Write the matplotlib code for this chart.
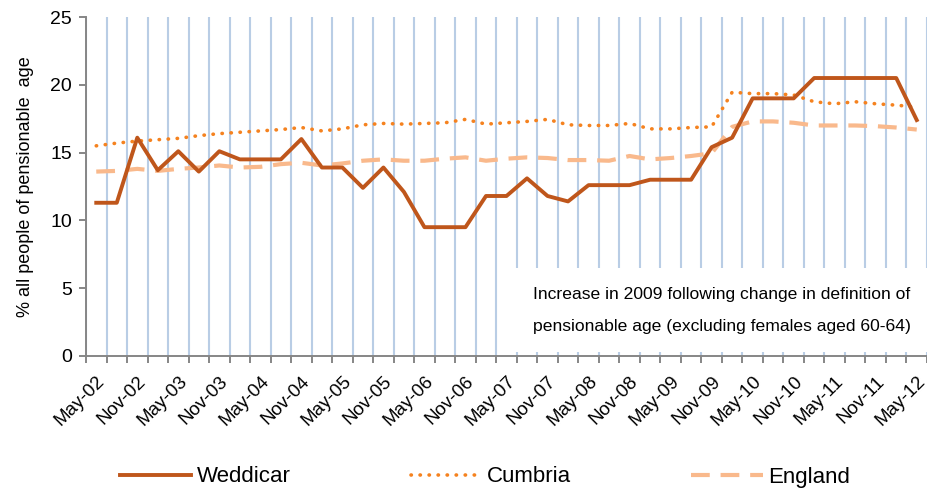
import numpy as np
import matplotlib.pyplot as plt
from matplotlib.patches import Rectangle

plt.rcParams['font.family'] = ['Liberation Sans', 'DejaVu Sans']

# quarterly values, May-02 .. May-12 (41 points)
weddicar = [11.3, 11.3, 16.1, 13.7, 15.1, 13.6, 15.1, 14.5, 14.5, 14.5,
            16.0, 13.9, 13.9, 12.4, 13.9, 12.1, 9.5, 9.5, 9.5, 11.8,
            11.8, 13.1, 11.8, 11.4, 12.6, 12.6, 12.6, 13.0, 13.0, 13.0,
            15.4, 16.1, 19.0, 19.0, 19.0, 20.5, 20.5, 20.5, 20.5, 20.5,
            17.4]
cumbria = [15.5, 15.7, 15.85, 15.95, 16.05, 16.25, 16.4, 16.5, 16.6, 16.7,
           16.85, 16.6, 16.75, 17.05, 17.15, 17.1, 17.15, 17.2, 17.45, 17.1,
           17.2, 17.3, 17.45, 17.05, 17.0, 17.0, 17.15, 16.75, 16.75, 16.85,
           16.9, 19.45, 19.35, 19.35, 19.25, 18.75, 18.6, 18.75, 18.6, 18.5,
           18.35]
england = [13.6, 13.65, 13.8, 13.65, 13.8, 13.9, 14.05, 13.9, 13.95, 14.15,
           14.25, 14.05, 14.2, 14.4, 14.5, 14.4, 14.4, 14.55, 14.65, 14.4,
           14.55, 14.65, 14.6, 14.45, 14.45, 14.4, 14.75, 14.5, 14.6, 14.75,
           14.95, 16.9, 17.3, 17.3, 17.2, 17.0, 17.0, 17.0, 16.95, 16.85,
           16.7]
tick_labels = ['May-02', 'Nov-02', 'May-03', 'Nov-03', 'May-04', 'Nov-04',
               'May-05', 'Nov-05', 'May-06', 'Nov-06', 'May-07', 'Nov-07',
               'May-08', 'Nov-08', 'May-09', 'Nov-09', 'May-10', 'Nov-10',
               'May-11', 'Nov-11', 'May-12']

x = np.arange(len(weddicar))

fig = plt.figure(figsize=(9.28, 4.88), dpi=100)
ax = fig.add_axes([86/928, 1 - 356/488, 841/928, 339/488])

ax.plot(x, england, color='#F9B98C', lw=3.0, dashes=(4.5, 2.6), label='England', zorder=3)
ax.plot(x, cumbria, color='#F5821F', lw=2.6, linestyle=(0, (0.1, 2.4)),
        dash_capstyle='round', label='Cumbria', zorder=4)
ax.plot(x, weddicar, color='#BF561B', lw=2.8, label='Weddicar', zorder=5)

ax.set_xlim(-0.5, len(x) - 0.5)
ax.set_ylim(0, 25)
ax.set_yticks([0, 5, 10, 15, 20, 25])

ax.set_xticks(x[::2])
ax.set_xticklabels(tick_labels, rotation=45, ha='right', rotation_mode='anchor')
ax.set_xticks(np.arange(len(x) + 1) - 0.5, minor=True)
ax.tick_params(axis='x', which='major', length=0, pad=12, labelsize=13.5)
ax.tick_params(axis='x', which='minor', length=5, width=1.4, color='#868686', direction='out')
ax.tick_params(axis='y', length=5, width=1.4, color='#868686', labelsize=14, pad=5)

ax.grid(True, axis='x', which='minor', color='#B9CDE5', lw=1.5)
ax.set_axisbelow(True)

for s in ['top', 'right']:
    ax.spines[s].set_visible(False)
for s in ['left', 'bottom']:
    ax.spines[s].set_color('#868686')
    ax.spines[s].set_linewidth(1.4)

ax.set_ylabel('% all people of pensionable  age', fontsize=13, labelpad=12)

# white note box hiding the gridlines
ax.add_patch(Rectangle((20.2, 0.3), 21, 6.2, facecolor='white', edgecolor='none',
                       zorder=1.5, clip_on=False))
ax.text(21.3, 4.5, 'Increase in 2009 following change in definition of',
        fontsize=12.6, va='center', ha='left', zorder=6)
ax.text(21.3, 2.2, 'pensionable age (excluding females aged 60-64)',
        fontsize=12.6, va='center', ha='left', zorder=6)

h, l = ax.get_legend_handles_labels()
order = [2, 1, 0]
fig.legend([h[i] for i in order], [l[i] for i in order], loc='center',
           bbox_to_anchor=(485/928, 1 - 477/488), ncol=3, frameon=False,
           fontsize=16, handlelength=3.2, handletextpad=0.25, columnspacing=5.4)

fig.savefig('out.png', dpi=100)
